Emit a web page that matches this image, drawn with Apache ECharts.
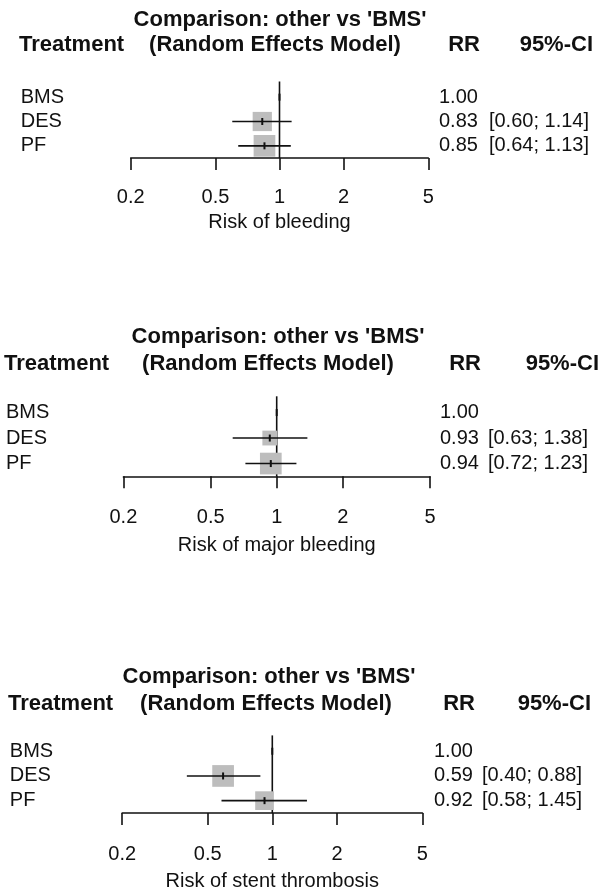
<!DOCTYPE html>
<html>
<head>
<meta charset="utf-8">
<script src="https://cdn.jsdelivr.net/npm/echarts@6/dist/echarts.min.js"></script>
<style>
  html, body { margin: 0; padding: 0; background: #ffffff; }
  #chart { width: 614px; height: 892px; }
</style>
</head>
<body>
<div id="chart"></div>
<script>
// ---------------- data ----------------
const treatments = ['BMS', 'DES', 'PF'];

const bleedingRR = [1.00, 0.83, 0.85];
const bleedingLo = [null, 0.60, 0.64];
const bleedingHi = [null, 1.14, 1.13];

const majorRR = [1.00, 0.93, 0.94];
const majorLo = [null, 0.63, 0.72];
const majorHi = [null, 1.38, 1.23];

const stentRR = [1.00, 0.59, 0.92];
const stentLo = [null, 0.40, 0.58];
const stentHi = [null, 0.88, 1.45];

const tickValues = [0.2, 0.5, 1, 2, 5];
const axisNames = ['Risk of bleeding', 'Risk of major bleeding', 'Risk of stent thrombosis'];

const titleLine1 = "Comparison: other vs 'BMS'";
const titleLine2 = '(Random Effects Model)';
const colTreatment = 'Treatment';
const colRR = 'RR';
const colCI = '95%-CI';

// ---------------- layout / style ----------------
const FONT = "'Liberation Sans', Arial, Helvetica, sans-serif";
const REG = 20, BOLD = 22;
const INK = '#111111';
const SQUARE = '#bdbdbd';
const MAX_SQ = 21.7;
const LW = 1.6;

const panels = [
  { rr: bleedingRR, lo: bleedingLo, hi: bleedingHi, name: axisNames[0],
    left: 130.7, width: 297.6, top: 85, height: 73,
    t1y: 19.8, t2y: 45.3, t1x: 280, t2x: 275,
    labX: 20.7, headX: 19, rrStart: 439, rrHeadR: 480, ciHeadR: 593, ciGap: 11,
    labMargin: 29, nameGap: 54 },
  { rr: majorRR, lo: majorLo, hi: majorHi, name: axisNames[1],
    left: 123.4, width: 306.6, top: 399.8, height: 76.5,
    t1y: 336.7, t2y: 364, t1x: 278, t2x: 268,
    labX: 5.9, headX: 4, rrStart: 440, rrHeadR: 481, ciHeadR: 599, ciGap: 9,
    labMargin: 31, nameGap: 59 },
  { rr: stentRR, lo: stentLo, hi: stentHi, name: axisNames[2],
    left: 122.2, width: 300.2, top: 738.9, height: 75.5,
    t1y: 676.5, t2y: 703.7, t1x: 269, t2x: 266,
    labX: 9.8, headX: 8, rrStart: 434, rrHeadR: 475, ciHeadR: 591, ciGap: 9,
    labMargin: 31, nameGap: 58 }
];

function fmt2(v) { return v.toFixed(2); }

const grids = [], xAxes = [], yAxes = [], series = [], graphics = [];

panels.forEach((p, i) => {
  grids.push({ left: p.left, top: p.top, width: p.width, height: p.height, containLabel: false });

  xAxes.push({
    type: 'log', logBase: 10, min: 0.2, max: 5, gridIndex: i,
    name: p.name, nameLocation: 'middle', nameGap: p.nameGap,
    nameTextStyle: { fontFamily: FONT, fontSize: REG, color: INK },
    axisLine: { show: true, onZero: false, lineStyle: { color: INK, width: LW } },
    axisTick: { show: true, length: 12, customValues: tickValues, lineStyle: { color: INK, width: LW } },
    axisLabel: { show: true, customValues: tickValues, margin: p.labMargin,
      fontFamily: FONT, fontSize: REG, color: INK,
      formatter: v => String(+(+v).toPrecision(3)) },
    splitLine: { show: false }, minorTick: { show: false }, minorSplitLine: { show: false }
  });

  // left: treatment names
  yAxes.push({
    type: 'category', data: treatments, inverse: true, gridIndex: i, position: 'left',
    axisLine: { show: false }, axisTick: { show: false }, splitLine: { show: false },
    axisLabel: { show: true, interval: 0, align: 'left', margin: p.left - p.labX,
      fontFamily: FONT, fontSize: REG, color: INK }
  });
  // right: RR and CI text
  yAxes.push({
    type: 'category', data: treatments, inverse: true, gridIndex: i, position: 'right',
    axisLine: { show: false }, axisTick: { show: false }, splitLine: { show: false },
    axisLabel: { show: true, interval: 0, align: 'left', margin: p.rrStart - (p.left + p.width),
      formatter: (val, idx) => {
        const rr = '{rr|' + fmt2(p.rr[idx]) + '}';
        if (p.lo[idx] == null) return rr;
        return rr + '{ci|[' + fmt2(p.lo[idx]) + '; ' + fmt2(p.hi[idx]) + ']}';
      },
      rich: {
        rr: { fontFamily: FONT, fontSize: REG, color: INK },
        ci: { fontFamily: FONT, fontSize: REG, color: INK, padding: [0, 0, 0, p.ciGap] }
      }
    }
  });

  // reference line at RR = 1
  series.push({
    type: 'custom', xAxisIndex: i, yAxisIndex: i * 2, silent: true, z: 2,
    data: [[1, 0]],
    renderItem: (params, api) => {
      const cs = params.coordSys;
      const x = api.coord([api.value(0), 0])[0];
      return { type: 'line', shape: { x1: x, y1: cs.y - 3.5, x2: x, y2: cs.y + cs.height },
        style: { stroke: INK, lineWidth: LW } };
    }
  });

  // squares + CIs
  const ses = p.lo.map((lo, k) => lo == null ? null : (Math.log(p.hi[k]) - Math.log(lo)) / (2 * 1.96));
  const minSE = Math.min.apply(null, ses.filter(s => s != null));
  series.push({
    type: 'custom', xAxisIndex: i, yAxisIndex: i * 2, silent: true, z: 3,
    data: p.rr.map((v, k) => [v, k]),
    renderItem: (params, api) => {
      const k = params.dataIndex;
      const c = api.coord([api.value(0), api.value(1)]);
      const children = [];
      if (p.lo[k] != null) {
        const s = MAX_SQ * minSE / ses[k];
        children.push({ type: 'rect', shape: { x: c[0] - s / 2, y: c[1] - s / 2, width: s, height: s },
          style: { fill: SQUARE } });
        const a = api.coord([p.lo[k], k]), b = api.coord([p.hi[k], k]);
        children.push({ type: 'line', shape: { x1: a[0], y1: c[1], x2: b[0], y2: c[1] },
          style: { stroke: INK, lineWidth: LW } });
      }
      children.push({ type: 'line', shape: { x1: c[0], y1: c[1] - 3.5, x2: c[0], y2: c[1] + 3.5 },
        style: { stroke: INK, lineWidth: 2 } });
      return { type: 'group', children };
    }
  });

  // headers
  const bold = (text, x, y, align) => ({ type: 'text', silent: true,
    style: { text, x, y, fill: INK, font: 'bold ' + BOLD + 'px ' + FONT, textAlign: align, textVerticalAlign: 'middle' } });
  graphics.push(bold(titleLine1, p.t1x, p.t1y, 'center'));
  graphics.push(bold(colTreatment, p.headX, p.t2y, 'left'));
  graphics.push(bold(titleLine2, p.t2x, p.t2y, 'center'));
  graphics.push(bold(colRR, p.rrHeadR, p.t2y, 'right'));
  graphics.push(bold(colCI, p.ciHeadR, p.t2y, 'right'));
});

const chart = echarts.init(document.getElementById('chart'), null, { renderer: 'canvas' });
chart.setOption({
  backgroundColor: '#ffffff',
  animation: false,
  grid: grids,
  xAxis: xAxes,
  yAxis: yAxes,
  series: series,
  graphic: graphics
});
</script>
</body>
</html>
